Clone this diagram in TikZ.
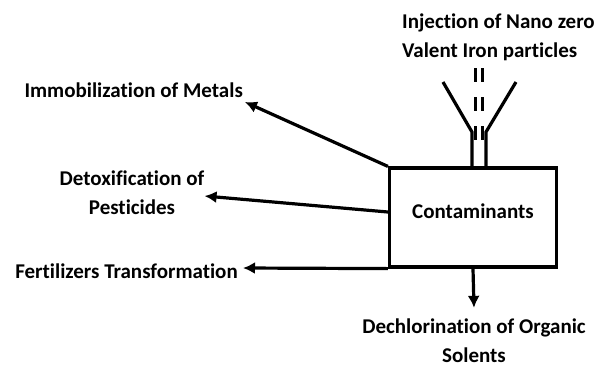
\documentclass[tikz,border=0pt]{standalone}
\usepackage{fontspec}
\setmainfont{Carlito}[Ligatures=NoCommon]
\usetikzlibrary{arrows.meta}
\usetikzlibrary{positioning}

\tikzset{
  label/.style={font=\bfseries\fontsize{21}{29}\selectfont, inner sep=0pt},
  thick line/.style={line width=3.2pt},
  arr/.style={thick line, -{Latex[length=12pt,width=12pt]}}
}

\begin{document}
\begin{tikzpicture}[x=1pt,y=-1pt]
\useasboundingbox (0,0) rectangle (598,368);
% the box
\node [thick line, draw, minimum width=167pt, minimum height=99pt,
  inner sep=0pt] (cont) at (473,217.5) {};
\node [label] (contname) at ([yshift=6pt]cont.center) {Contaminants};
% the outcomes
\node [label, anchor=east] (immob) at (243,90) {Immobilization of Metals};
\node [label, align=center] (detox) at (132,193) {Detoxification of\\Pesticides};
\node [label, anchor=east] (fert) at (238,271) {Fertilizers Transformation};
\node [label, align=center] (dechlor) at (474,341) {Dechlorination of Organic\\Solents};
\node [label, align=left, anchor=west] (inject) at (402,37) {Injection of Nano zero\\Valent Iron particles};
\draw [arr] (cont.north west) -- ([xshift=2pt,yshift=-12pt]immob.east);
\draw [arr] ([yshift=5.5pt]cont.west) -- ([yshift=-3pt]detox.east);
\draw [arr] (cont.south west) -- ([xshift=5pt,yshift=3pt]fert.east);
\draw [arr] (cont.south) -- ([yshift=11pt]dechlor.north);
% the funnel
\draw [thick line] (443,82) -- (472,132) -- (472,168);
\draw [thick line] (516,82) -- (486,132) -- (486,168);
\draw [thick line, dash pattern=on 14pt off 15pt] (475.5,68) -- (475.5,140);
\draw [thick line, dash pattern=on 14pt off 15pt] (482.5,68) -- (482.5,140);
\end{tikzpicture}
\end{document}
